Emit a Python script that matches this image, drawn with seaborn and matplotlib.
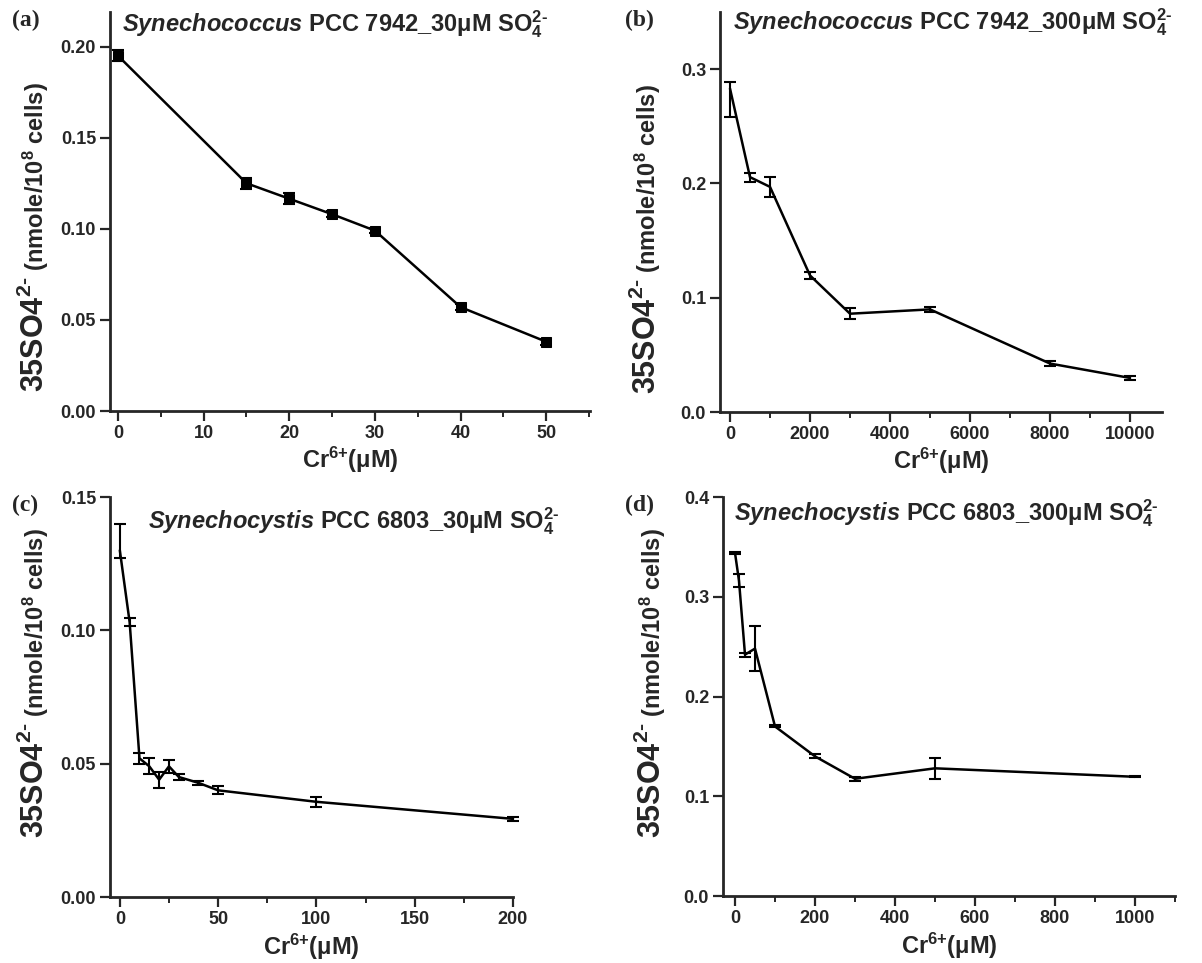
import numpy as np
import pandas as pd
import matplotlib
matplotlib.use("Agg")
import matplotlib.pyplot as plt
import seaborn as sns
from matplotlib.ticker import MultipleLocator, FormatStrFormatter

# ---------------- data ----------------
a_x = [0, 15, 20, 25, 30, 40, 50]
a_y = [0.195, 0.125, 0.1165, 0.108, 0.099, 0.057, 0.038]
a_err = [0.003, 0.003, 0.003, 0.0015, 0.0015, 0.0015, 0.0015]

b_x = [0, 500, 1000, 2000, 3000, 5000, 8000, 10000]
b_y = [0.283, 0.2055, 0.197, 0.1195, 0.086, 0.0898, 0.0424, 0.0298]
b_err_lo = [0.025, 0.004, 0.009, 0.003, 0.005, 0.002, 0.002, 0.002]
b_err_hi = [0.006, 0.004, 0.009, 0.003, 0.005, 0.002, 0.002, 0.002]

c_x = [0, 5, 10, 15, 20, 25, 30, 40, 50, 100, 200]
c_y = [0.130, 0.103, 0.052, 0.049, 0.044, 0.049, 0.045, 0.0428, 0.040, 0.0357, 0.0293]
c_err_lo = [0.003, 0.0015, 0.002, 0.003, 0.003, 0.0025, 0.001, 0.0008, 0.0015, 0.0018, 0.0008]
c_err_hi = [0.010, 0.0015, 0.002, 0.003, 0.003, 0.0025, 0.001, 0.0008, 0.0015, 0.0018, 0.0008]

d_x = [0, 10, 25, 50, 100, 200, 300, 500, 1000]
d_y = [0.344, 0.316, 0.242, 0.248, 0.170, 0.140, 0.1175, 0.128, 0.1195]
d_err = [0.001, 0.0065, 0.002, 0.0225, 0.001, 0.002, 0.002, 0.0105, 0.0007]

titles = [
    r"$\mathit{Synechococcus}$ PCC 7942_30μM SO$_{\text{4}}^{\text{2-}}$",
    r"$\mathit{Synechococcus}$ PCC 7942_300μM SO$_{\text{4}}^{\text{2-}}$",
    r"$\mathit{Synechocystis}$ PCC 6803_30μM SO$_{\text{4}}^{\text{2-}}$",
    r"$\mathit{Synechocystis}$ PCC 6803_300μM SO$_{\text{4}}^{\text{2-}}$",
]
panel_labels = ["(a)", "(b)", "(c)", "(d)"]
xlabel = r"Cr$^{\text{6+}}$(μM)"
ylabel_main = r"35SO4$^{\text{2-}}$"
ylabel_unit = r" (nmole/10$^{\text{8}}$ cells)"

# ---------------- style ----------------
sns.set_style("ticks")
plt.rcParams["font.family"] = ["Liberation Sans", "DejaVu Sans"]
plt.rcParams["font.weight"] = "bold"
plt.rcParams["mathtext.fontset"] = "custom"
plt.rcParams["mathtext.rm"] = "Liberation Sans:bold"
plt.rcParams["mathtext.bf"] = "Liberation Sans:bold"
plt.rcParams["mathtext.it"] = "Liberation Sans:bold:italic"
plt.rcParams["axes.linewidth"] = 2.0

W, H = 1202, 963
fig = plt.figure(figsize=(W / 100, H / 100), dpi=100)

def mk(left, top, right, bottom):
    return fig.add_axes([left / W, (H - bottom) / H, (right - left) / W, (bottom - top) / H])

ax_a = mk(110, 12, 590, 411)
ax_b = mk(720, 12, 1162, 412)
ax_c = mk(110, 497, 513, 897)
ax_d = mk(723, 497, 1175, 896)

panels = [
    dict(ax=ax_a, x=a_x, y=a_y, lo=a_err, hi=a_err, xlim=(-0.93, 55.1), ylim=(0, 0.219),
         xmaj=10, xmin=5, ymaj=0.05, fmt="%.2f", marker="s", title_xy=(0.025, 0.97)),
    dict(ax=ax_b, x=b_x, y=b_y, lo=b_err_lo, hi=b_err_hi, xlim=(-250, 10800), ylim=(0, 0.35),
         xmaj=2000, xmin=1000, ymaj=0.1, fmt="%.1f", marker=None, title_xy=(0.03, 0.975)),
    dict(ax=ax_c, x=c_x, y=c_y, lo=c_err_lo, hi=c_err_hi, xlim=(-5, 200), ylim=(0, 0.15),
         xmaj=50, xmin=25, ymaj=0.05, fmt="%.2f", marker=None, title_xy=(0.095, 0.94)),
    dict(ax=ax_d, x=d_x, y=d_y, lo=d_err, hi=d_err, xlim=(-30, 1100), ylim=(0, 0.4),
         xmaj=200, xmin=100, ymaj=0.1, fmt="%.1f", marker=None, title_xy=(0.025, 0.96)),
]

for i, p in enumerate(panels):
    ax = p["ax"]
    df = pd.DataFrame({"x": p["x"], "y": p["y"]})
    sns.lineplot(data=df, x="x", y="y", ax=ax, color="black", linewidth=1.8,
                 marker=p["marker"], markersize=7 if p["marker"] else 0,
                 markeredgecolor="black", markerfacecolor="black", clip_on=False, zorder=3)
    ax.errorbar(p["x"], p["y"], yerr=[p["lo"], p["hi"]], fmt="none", ecolor="black",
                elinewidth=1.5, capsize=4, capthick=1.5, clip_on=False, zorder=4)
    ax.set_xlim(*p["xlim"])
    ax.set_ylim(*p["ylim"])
    ax.xaxis.set_major_locator(MultipleLocator(p["xmaj"]))
    ax.xaxis.set_minor_locator(MultipleLocator(p["xmin"]))
    ax.yaxis.set_major_locator(MultipleLocator(p["ymaj"]))
    ax.yaxis.set_major_formatter(FormatStrFormatter(p["fmt"]))
    sns.despine(ax=ax)
    ax.spines["left"].set_linewidth(2)
    ax.spines["bottom"].set_linewidth(2)
    ax.tick_params(axis="both", which="major", length=7, width=1.6, labelsize=13, pad=3, direction="out")
    ax.tick_params(axis="x", which="minor", length=4, width=1.4, direction="out")
    for lab in ax.get_xticklabels() + ax.get_yticklabels():
        lab.set_fontweight("bold")
    ax.set_xlabel(xlabel, fontsize=17, fontweight="bold")
    ax.set_ylabel("")
    ax.text(p["title_xy"][0], p["title_xy"][1], titles[i], transform=ax.transAxes,
            fontsize=17, fontweight="bold", ha="left", va="center")

ax_a.xaxis.set_label_coords(0.5, -0.085)
ax_b.xaxis.set_label_coords(0.5, -0.085)
ax_c.xaxis.set_label_coords(0.5, -0.088)
ax_d.xaxis.set_label_coords(0.5, -0.088)

# y labels composed of two sizes (rotated, baseline anchored)
fig.canvas.draw()
renderer = fig.canvas.get_renderer()
ylab_pos = [(44, 392), (656, 394), (44, 838), (661, 838)]  # baseline x, bottom y in pixels
for (bx, by) in ylab_pos:
    t1 = fig.text(bx / W, 1 - by / H, ylabel_main, fontsize=22, fontweight="bold",
                  rotation=90, rotation_mode="anchor", ha="left", va="baseline")
    bb = t1.get_window_extent(renderer=renderer)
    top_px = H - bb.y1
    fig.text(bx / W, 1 - top_px / H, ylabel_unit, fontsize=17, fontweight="bold",
             rotation=90, rotation_mode="anchor", ha="left", va="baseline")

for lab, (px, py) in zip(panel_labels, [(12, 20), (625, 20), (12, 505), (625, 505)]):
    fig.text(px / W, 1 - py / H, lab, fontsize=17, fontweight="bold",
             family=["Liberation Serif", "DejaVu Serif"], ha="left", va="center")

fig.savefig("out.png", dpi=100)
